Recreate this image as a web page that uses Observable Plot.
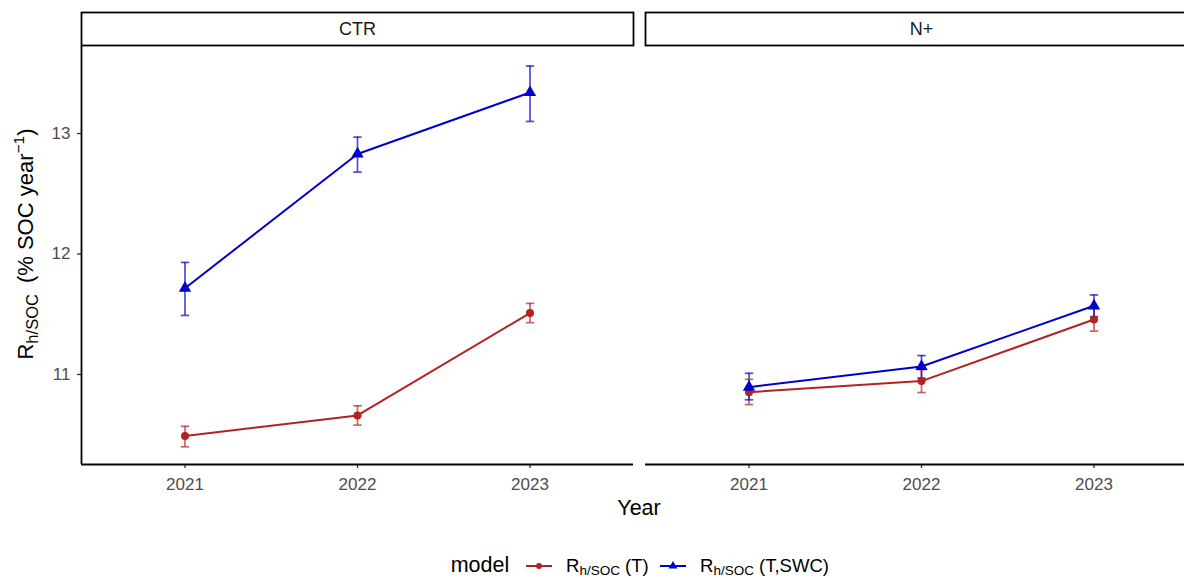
<!DOCTYPE html>
<html><head><meta charset="utf-8">
<script src="https://cdn.jsdelivr.net/npm/d3@7"></script>
<script src="https://cdn.jsdelivr.net/npm/@observablehq/plot@0.6"></script>
<style>
html,body{margin:0;padding:0;background:#fff;overflow:hidden;}
#wrap{position:relative;width:1184px;height:578px;font-family:"Liberation Sans",Arial,sans-serif;}
#chart{position:absolute;left:0;top:0;}
#legend{position:absolute;left:0;top:540px;}
</style></head>
<body><div id="wrap"><div id="chart"></div><div id="legend"></div></div>
<script>
// ---- data ----
const panels = ["CTR", "N+"];
const years = [2021, 2022, 2023];
const models = ["T", "T,SWC"];
const yTicks = [11, 12, 13];
// CTR panel, model T
const ctrT_mean = [10.49, 10.66, 11.51];
const ctrT_lo   = [10.40, 10.58, 11.43];
const ctrT_hi   = [10.57, 10.74, 11.59];
// CTR panel, model T,SWC
const ctrS_mean = [11.716, 12.83, 13.34];
const ctrS_lo   = [11.49, 12.68, 13.10];
const ctrS_hi   = [11.93, 12.97, 13.56];
// N+ panel, model T
const npT_mean = [10.853, 10.945, 11.456];
const npT_lo   = [10.75, 10.85, 11.36];
const npT_hi   = [10.96, 11.04, 11.55];
// N+ panel, model T,SWC
const npS_mean = [10.895, 11.066, 11.57];
const npS_lo   = [10.79, 10.97, 11.48];
const npS_hi   = [11.01, 11.157, 11.66];

const colors = ["#B22222", "#0000CD"];
const font = '"Liberation Sans", Arial, sans-serif';

function series(panel, model, mean, lo, hi) {
  return years.map((year, i) => ({panel, model, year, mean: mean[i], lo: lo[i], hi: hi[i]}));
}
const rows = [
  ...series("CTR", "T", ctrT_mean, ctrT_lo, ctrT_hi),
  ...series("CTR", "T,SWC", ctrS_mean, ctrS_lo, ctrS_hi),
  ...series("N+", "T", npT_mean, npT_lo, npT_hi),
  ...series("N+", "T,SWC", npS_mean, npS_lo, npS_hi)
];
const rowsT = rows.filter(d => d.model === "T");
const rowsS = rows.filter(d => d.model === "T,SWC");

// ---- layout ----
const W = 1184, H = 540, mt = 46, mb = 76, ml = 81, mr = -13;
const panelH = H - mt - mb;
const gap = 12;
const bandW = 552;
const stepW = bandW + gap;
const xDomain = [2020.4, 2023.6];
const yDomain = [10.253, 13.722];

const cap = {draw(context, size) {
  const w = Math.sqrt(size / Math.PI);
  context.moveTo(-w, 0); context.lineTo(w, 0);
}};

const plot = Plot.plot({
  width: W, height: H,
  marginTop: mt, marginBottom: mb, marginLeft: ml, marginRight: mr,
  style: {fontFamily: font, background: "white", overflow: "hidden"},
  fx: {domain: panels, paddingInner: gap / stepW, paddingOuter: 0, axis: null, label: null},
  x: {domain: xDomain, label: null},
  y: {domain: yDomain, label: null},
  color: {domain: models, range: colors},
  marks: [
    // strips
    Plot.frame({fill: "white", stroke: "black", strokeWidth: 1.8, insetTop: -34, insetBottom: panelH + 1}),
    Plot.text(panels, {fx: d => d, text: d => d, frameAnchor: "top", lineAnchor: "middle", dy: -17.5, fontSize: 18, fill: "#1a1a1a"}),
    // axes
    Plot.axisY({ticks: yTicks, tickFormat: d => String(d), tickSize: 4, tickPadding: 7, stroke: "#333", fill: "#4d4d4d", strokeWidth: 1.3, fontSize: 17, label: null}),
    Plot.axisX({ticks: years, tickFormat: d => String(d), tickSize: 4, tickPadding: 9, stroke: "#333", fill: "#4d4d4d", strokeWidth: 1.3, fontSize: 17, label: null}),
    Plot.ruleY([yDomain[0]], {stroke: "black", strokeWidth: 1.8}),
    Plot.ruleX([{panel: "CTR"}], {fx: "panel", x: () => xDomain[0], stroke: "black", strokeWidth: 1.8}),
    // error bars
    Plot.ruleX(rows, {fx: "panel", x: "year", y1: "lo", y2: "hi", stroke: "model", strokeOpacity: 0.7, strokeWidth: 1.7}),
    Plot.dot(rows, {fx: "panel", x: "year", y: "lo", symbol: cap, r: 4.2, fill: "none", stroke: "model", strokeOpacity: 0.7, strokeWidth: 1.7}),
    Plot.dot(rows, {fx: "panel", x: "year", y: "hi", symbol: cap, r: 4.2, fill: "none", stroke: "model", strokeOpacity: 0.7, strokeWidth: 1.7}),
    // lines
    Plot.line(rows, {fx: "panel", x: "year", y: "mean", z: "model", stroke: "model", strokeWidth: 2}),
    // points
    Plot.dot(rowsT, {fx: "panel", x: "year", y: "mean", symbol: "circle", r: 4, fill: "model", stroke: "none"}),
    Plot.dot(rowsS, {fx: "panel", x: "year", y: "mean", symbol: "triangle", r: 4.6, fill: "model", stroke: "none"})
  ]
});
document.getElementById("chart").appendChild(plot);

// axis titles
const svg = d3.select(plot);
svg.append("text")
  .attr("x", (ml + (W - mr)) / 2).attr("y", 515)
  .attr("text-anchor", "middle").attr("font-size", 21.5).attr("fill", "black")
  .attr("font-family", font).text("Year");
const yt = svg.append("text")
  .attr("transform", `translate(33,244) rotate(-90)`)
  .attr("text-anchor", "middle").attr("font-size", 22).attr("fill", "black")
  .attr("font-family", font);
yt.append("tspan").text("R");
yt.append("tspan").attr("font-size", 16.5).attr("dy", 5).text("h/SOC");
yt.append("tspan").attr("dy", -5).text("\u2002(% SOC year");
yt.append("tspan").attr("font-size", 15.5).attr("dy", -9).text("\u22121");
yt.append("tspan").attr("dy", 9).text(")");

// legend
const lg = d3.select("#legend").append("svg").attr("width", W).attr("height", 38)
  .style("font-family", font);
const oy = -540;
lg.append("text").attr("x", 450.7).attr("y", 572 + oy).attr("font-size", 21.5).attr("fill", "black").text("model");
const keys = [
  {model: "T", x0: 526, tx: 566, sym: "circle", label: "(T)"},
  {model: "T,SWC", x0: 660, tx: 700, sym: "triangle", label: "(T,SWC)"}
];
keys.forEach((k, i) => {
  const c = colors[i];
  lg.append("line").attr("x1", k.x0).attr("x2", k.x0 + 26).attr("y1", 566 + oy).attr("y2", 566 + oy)
    .attr("stroke", c).attr("stroke-width", 2);
  const sym = d3.symbol(k.sym === "circle" ? d3.symbolCircle : d3.symbolTriangle, k.sym === "circle" ? 28 : 34);
  lg.append("path").attr("d", sym()).attr("transform", `translate(${k.x0 + 13},${566 + oy})`).attr("fill", c);
  const t = lg.append("text").attr("x", k.tx).attr("y", 572 + oy).attr("font-size", 18.5).attr("fill", "black");
  t.append("tspan").text("R");
  t.append("tspan").attr("font-size", 13.5).attr("dy", 3).text("h/SOC");
  t.append("tspan").attr("dy", -3).text(" " + k.label);
});
</script>
</body></html>
